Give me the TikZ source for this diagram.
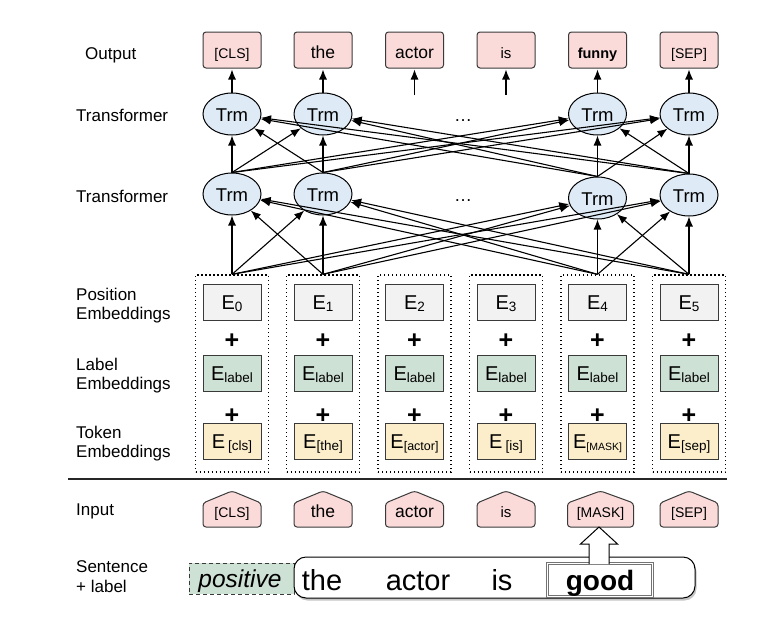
\documentclass[tikz,border=0pt]{standalone}
\usepackage{fontspec}
\setmainfont{Liberation Sans}
\usetikzlibrary{shapes.geometric,arrows.meta,shadows}
\newcommand\myfs[1]{\fontsize{#1}{#1}\selectfont}
\newcommand\Esub[2][13.5]{{\myfs{20}E}\raisebox{-2.5pt}{\myfs{#1}#2}}
\newcommand\drawhouse[2]{\draw[house] (#1-#2,527) -- (#1-#2,503) -- (#1,491) -- (#1+#2,503) -- (#1+#2,527) -- cycle;}
\definecolor{pinkf}{HTML}{FADBDA}
\definecolor{bluef}{HTML}{DEEBF7}
\definecolor{grayf}{HTML}{F2F2F2}
\definecolor{greenf}{HTML}{CEE1D5}
\definecolor{yellowf}{HTML}{FCEECB}
\definecolor{edge}{HTML}{3A3A3A}
\begin{document}
\begin{tikzpicture}[x=1pt,y=-1pt,
  lbl/.style={anchor=base west, font=\myfs{17}, inner sep=0pt},
  outbox/.style={draw=edge, fill=pinkf, rounded corners=3pt, minimum width=58pt, minimum height=36pt, inner sep=0pt, line width=1pt, text height=16pt, text depth=0pt},
  trm/.style={ellipse, draw=black, fill=bluef, minimum width=58pt, minimum height=42pt, inner sep=0pt, line width=1pt, font=\myfs{18.5}, text height=15.4pt, text depth=0pt},
  ebox/.style={draw=edge, minimum width=58pt, minimum height=36pt, inner sep=0pt, line width=1pt, text height=14.5pt, text depth=0pt},
  colbox/.style={draw=black, line width=1.3pt, dash pattern=on 1.4pt off 2.6pt, minimum width=73pt, minimum height=197pt, inner sep=0pt},
  arr/.style={-{Latex[length=10pt,width=8pt]}, line width=1.1pt},
  plus/.style={font=\myfs{25}\bfseries, inner sep=0pt, anchor=base},
  house/.style={draw=edge, fill=pinkf, line width=1pt, rounded corners=3pt},
  intext/.style={inner sep=0pt, anchor=base},
  big/.style={inner sep=0pt, anchor=base, font=\myfs{29}},
  ]
\useasboundingbox (0,0) rectangle (770,621);
\fill[white] (0,0) rectangle (770,621);

% left labels
\node[lbl] (lo) at (85,59) {Output};
\node[lbl] (lt1) at (76,121.5) {Transformer};
\node[lbl] (lt2) at (76,202) {Transformer};
\node[lbl] (lp1) at (76,300) {Position};
\node[lbl] (lp2) at (76,319) {Embeddings};
\node[lbl] (ll1) at (76,370.5) {Label};
\node[lbl] (ll2) at (76,389.5) {Embeddings};
\node[lbl] (lk1) at (76,438.5) {Token};
\node[lbl] (lk2) at (76,457.5) {Embeddings};
\node[lbl] (li) at (76,515) {Input};
\node[lbl] (ls1) at (76,572) {Sentence};
\node[lbl] (ls2) at (76,592) {+ label};

% output boxes
\node[outbox, font=\myfs{14}] (o1) at (232,50) {[CLS]};
\node[outbox, font=\myfs{17.5}] (o2) at (323,50) {the};
\node[outbox, font=\myfs{17.5}] (o3) at (414.5,50) {actor};
\node[outbox, font=\myfs{15}] (o4) at (506,50) {is};
\node[outbox, font=\myfs{14.5}\bfseries] (o5) at (597.5,50) {funny};
\node[outbox, font=\myfs{14}] (o6) at (689,50) {[SEP]};

% transformers
\node[trm] (t1) at (232,114) {Trm};
\node[trm] (t2) at (323,114) {Trm};
\node[trm] (t5) at (597.5,114) {Trm};
\node[trm] (t6) at (689,114) {Trm};
\node[trm] (b1) at (232,194) {Trm};
\node[trm] (b2) at (323,194) {Trm};
\node[trm] (b5) at (597.5,198) {Trm};
\node[trm] (b6) at (689,195) {Trm};
\node[intext, font=\myfs{18}] (d1) at (463,121.5) {\dots};
\node[intext, font=\myfs{18}] (d2) at (463,201.5) {\dots};

% embedding columns
\foreach \i/\x in {1/232,2/323,3/414.5,4/506,5/597.5,6/689}{
  \node[colbox] (c\i) at (\x,373.5) {};
  \node[ebox, fill=grayf] (p\i) at (\x,302) {\Esub{\the\numexpr\i-1\relax}};
  \node[plus] (pa\i) at (\x,348.5) {+};
  \node[ebox, fill=greenf] (l\i) at (\x,373) {\Esub{label}};
  \node[plus] (pb\i) at (\x,423.5) {+};
}
\node[ebox, fill=yellowf] (k1) at (232,441) {\Esub{\hspace{3pt}[cls]}};
\node[ebox, fill=yellowf] (k2) at (323,441) {\Esub{[the]}};
\node[ebox, fill=yellowf] (k3) at (414.5,441) {\Esub[12.5]{[actor]}};
\node[ebox, fill=yellowf] (k4) at (506,441) {\Esub{\hspace{3pt}[is]}};
\node[ebox, fill=yellowf] (k5) at (597.5,441) {\Esub[10.5]{[MASK]}};
\node[ebox, fill=yellowf] (k6) at (689,441) {\Esub{[sep]}};

% arrows
\foreach \i in {1,2,5,6}{
  \draw[arr, shorten >=1pt] (t\i) -- (o\i);
}
\coordinate (a3) at (414.5,95);
\coordinate (a4) at (506,95);
\draw[arr, shorten >=1pt] (a3) -- (o3);
\draw[arr, shorten >=1pt] (a4) -- (o4);
\foreach \s in {1,2,5,6}{
  \foreach \t in {1,2,5,6}{
    \draw[arr] (b\s.north) -- (t\t);
    \draw[arr] (c\s.north) -- (b\t);
  }
}

% separator
\draw[line width=2.6pt, draw=black!85] (68,479) -- (727,479);

% input houses
\drawhouse{232}{29}
\drawhouse{323}{29}
\drawhouse{414.5}{29}
\drawhouse{506}{29}
\drawhouse{600.5}{33}
\drawhouse{689}{29}
\node[intext, font=\myfs{14}] (in1) at (232,517) {[CLS]};
\node[intext, font=\myfs{17.5}] (in2) at (323,517) {the};
\node[intext, font=\myfs{17.5}] (in3) at (414.5,517) {actor};
\node[intext, font=\myfs{15}] (in4) at (506,517) {is};
\node[intext, font=\myfs{14}] (in5) at (600.5,517) {[MASK]};
\node[intext, font=\myfs{14}] (in6) at (689,517) {[SEP]};

% sentence + label
\node[draw=edge, fill=greenf, dash pattern=on 4pt off 3pt, line width=1pt, minimum width=105pt, minimum height=31pt, inner sep=0pt] (pos) at (241.5,578.5) {};
\node[intext, font=\myfs{24.5}\itshape] (post) at (240,587) {positive};
\node[draw=black, fill=white, rounded corners=12pt, line width=1pt, minimum width=401pt, minimum height=41pt, inner sep=0pt,
  drop shadow={shadow xshift=1.5pt, shadow yshift=-2.5pt, opacity=0.45}] (sent) at (494.5,577.5) {};
\node[big] (w1) at (322,590) {the};
\node[big] (w2) at (418,590) {actor};
\node[big] (w3) at (502,590) {is};
\node[draw=black!55, double=white, double distance=1.2pt, line width=0.7pt, minimum width=105pt, minimum height=33pt, inner sep=0pt] (good) at (600,580) {};
\node[intext, font=\myfs{28}\bfseries] (w4) at (600,590) {good};
\draw[fill=white, line width=1pt, line join=miter] (589,564) -- (589,544) -- (580.5,544) -- (599,527) -- (617.5,544) -- (609,544) -- (609,564);
\end{tikzpicture}
\end{document}
